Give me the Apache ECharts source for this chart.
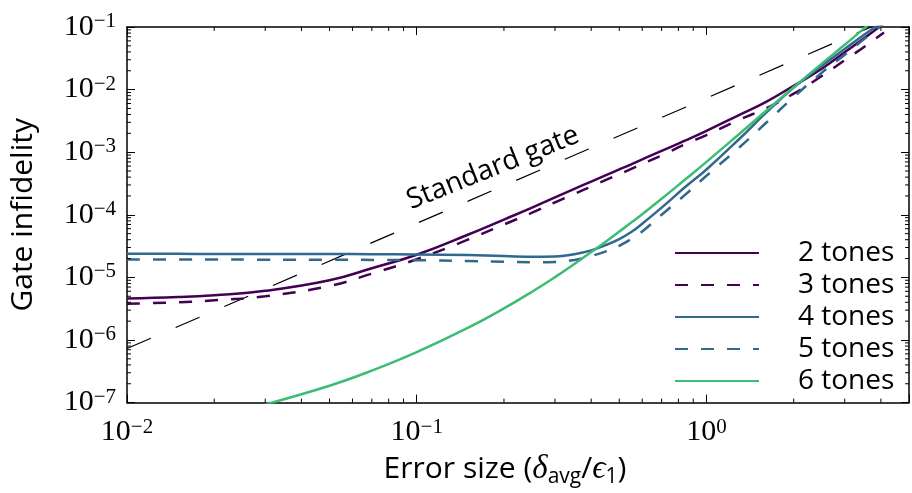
<!DOCTYPE html>
<html>
<head>
<meta charset="utf-8">
<script src="https://cdn.jsdelivr.net/npm/echarts@6/dist/echarts.min.js"></script>
<style>
html, body { margin: 0; padding: 0; background: #fff; }
#chart { width: 912px; height: 493px; }
</style>
</head>
<body>
<div id="chart"></div>
<script>
// error size (x) sampled on the curves
const errSize = [0.01, 0.015, 0.02, 0.03, 0.05, 0.07, 0.1, 0.15, 0.2, 0.25, 0.3, 0.35, 0.4, 0.45,
  0.5, 0.55, 0.6, 0.7, 0.85, 1, 1.3, 1.6, 2, 2.5, 3, 3.5, 4.1];
const tones2 = [4.6e-6, 4.85e-6, 5.2e-6, 6.1e-6, 9.0e-6, 1.4e-5, 2.3e-5, 4.8e-5, 8.4e-5, 1.3e-4, 1.9e-4, 2.6e-4, 3.4e-4, 4.3e-4,
  5.3e-4, 6.4e-4, 7.7e-4, 1.05e-3, 1.56e-3, 2.2e-3, 3.95e-3, 6.3e-3, 1.15e-2, 2.15e-2, 3.95e-2, 6.6e-2, 1.15e-1];
const tones3 = [3.8e-6, 4.0e-6, 4.3e-6, 5.0e-6, 7.3e-6, 1.15e-5, 1.95e-5, 4.0e-5, 7.0e-5, 1.08e-4, 1.58e-4, 2.16e-4, 2.83e-4, 3.6e-4,
  4.45e-4, 5.4e-4, 6.5e-4, 8.9e-4, 1.36e-3, 1.88e-3, 3.3e-3, 5.0e-3, 8.6e-3, 1.65e-2, 2.95e-2, 4.8e-2, 8.2e-2];
const tones4 = [2.38e-5, 2.38e-5, 2.37e-5, 2.37e-5, 2.36e-5, 2.35e-5, 2.33e-5, 2.27e-5, 2.2e-5, 2.13e-5, 2.15e-5, 2.35e-5, 2.7e-5, 3.3e-5,
  4.1e-5, 5.3e-5, 7.2e-5, 1.3e-4, 2.85e-4, 5.3e-4, 1.64e-3, 4.2e-3, 1.08e-2, 2.4e-2, 4.46e-2, 7.5e-2, 1.26e-1];
const tones5 = [1.93e-5, 1.93e-5, 1.93e-5, 1.92e-5, 1.92e-5, 1.9e-5, 1.88e-5, 1.83e-5, 1.78e-5, 1.75e-5, 1.77e-5, 1.9e-5, 2.2e-5, 2.6e-5,
  3.2e-5, 4.1e-5, 5.4e-5, 1.0e-4, 2.15e-4, 4.2e-4, 1.2e-3, 2.9e-3, 7.6e-3, 1.86e-2, 3.6e-2, 6.4e-2, 1.13e-1];
const errSize6 = [0.03, 0.05, 0.07, 0.1, 0.15, 0.2, 0.25, 0.3, 0.35, 0.4, 0.45, 0.5, 0.55, 0.6, 0.7, 0.85, 1, 1.3, 1.6, 2, 2.5, 3, 3.5, 4.1];
const tones6 = [9.35e-8, 1.86e-7, 3.24e-7, 6.4e-7, 1.56e-6, 3.2e-6, 5.9e-6, 1.01e-5, 1.64e-5, 2.54e-5, 3.76e-5, 5.4e-5, 7.5e-5, 1.02e-4,
  1.8e-4, 3.76e-4, 7.0e-4, 1.97e-3, 4.5e-3, 1.09e-2, 2.6e-2, 5.2e-2, 9.5e-2, 1.75e-1];
const standardX = [0.01, 4.1];
const standardY = [7.3e-7, 1.23e-1];

const toneNames = ["2 tones", "3 tones", "4 tones", "5 tones", "6 tones"];
const minorSteps = [2, 3, 4, 5, 6, 7, 8, 9];
const xDecades = [0.01, 0.1, 1];
const yDecades = [1e-7, 1e-6, 1e-5, 1e-4, 1e-3, 1e-2];
const xMin = 0.01, xMax = 5, yMin = 1e-7, yMax = 1e-1;

const sansFont = "Open Sans";
const serifFont = "Liberation Serif";

const pairs = (xs, ys) => xs.map((x, i) => [x, ys[i]]);

// minor ticks (log spaced), drawn through the axis scale on all four sides
const minorData = [];
xDecades.forEach((d) => minorSteps.forEach((m) => {
  if (d * m < xMax) minorData.push([d * m, yMin, 0]);
}));
yDecades.forEach((d) => minorSteps.forEach((m) => minorData.push([xMin, d * m, 1])));

const powLabel = (v) => {
  const e = Math.log10(v);
  const r = Math.round(e);
  if (Math.abs(e - r) > 1e-6) return "";
  return "{b|10}{s|" + (r < 0 ? "\u2212" + (-r) : r) + "}";
};
const powRich = {
  b: { fontFamily: serifFont, fontSize: 30, lineHeight: 32, color: "#000" },
  s: { fontFamily: serifFont, fontSize: 21, lineHeight: 21, verticalAlign: "top", color: "#000" },
};

const axisLine = { show: true, lineStyle: { color: "#000", width: 1.5 } };
const axisTick = { show: true, inside: true, length: 8, lineStyle: { color: "#000", width: 1 } };

const lineSeries = (name, data, color, dashed) => ({
  name: name,
  type: "line",
  data: data,
  symbol: "none",
  smooth: 0.45,
  clip: true,
  lineStyle: { color: color, width: 2.5, type: dashed ? [13, 13] : "solid" },
  itemStyle: { color: color },
  z: 3,
});

const myChart = echarts.init(document.getElementById("chart"));

const option = {
  backgroundColor: "#FFFFFF",
  animation: false,
  grid: { left: 127, right: 1, top: 27, bottom: 88 },
  legend: {
    data: toneNames,
    orient: "vertical",
    left: 674,
    top: 237,
    padding: 0,
    itemGap: 0,
    itemWidth: 84,
    itemHeight: 14,
    itemStyle: { opacity: 0 },
    textStyle: { fontFamily: sansFont, fontSize: 28, color: "#000", lineHeight: 32, padding: [0, 0, 0, 34] },
  },
  xAxis: [
    {
      type: "log",
      logBase: 10,
      min: xMin,
      max: xMax,
      position: "bottom",
      axisLine: axisLine,
      axisTick: axisTick,
      splitLine: { show: false },
      axisLabel: { formatter: powLabel, rich: powRich, margin: 14, showMinLabel: true, showMaxLabel: true },
      name: "{t|Error size (}{i|\u03b4}{sub|avg}{t|/}{i|\u03f5}{sub|1}{t|)}",
      nameLocation: "middle",
      nameGap: 40,
      nameTextStyle: {
        padding: [0, 26, 0, 0],
        rich: {
          t: { fontFamily: sansFont, fontSize: 30, color: "#000", lineHeight: 38 },
          i: { fontFamily: serifFont, fontStyle: "italic", fontSize: 33, color: "#000", lineHeight: 38 },
          sub: { fontFamily: sansFont, fontSize: 21, color: "#000", verticalAlign: "bottom", lineHeight: 38 },
        },
      },
    },
    {
      type: "log",
      logBase: 10,
      min: xMin,
      max: xMax,
      position: "top",
      axisLine: axisLine,
      axisTick: axisTick,
      splitLine: { show: false },
      axisLabel: { show: false },
    },
  ],
  yAxis: [
    {
      type: "log",
      logBase: 10,
      min: yMin,
      max: yMax,
      position: "left",
      axisLine: axisLine,
      axisTick: axisTick,
      splitLine: { show: false },
      axisLabel: { formatter: powLabel, rich: powRich, margin: 11, showMinLabel: true, showMaxLabel: true },
      name: "Gate infidelity",
      nameLocation: "middle",
      nameGap: 89,
      nameTextStyle: { fontFamily: sansFont, fontSize: 30, color: "#000" },
    },
    {
      type: "log",
      logBase: 10,
      min: yMin,
      max: yMax,
      position: "right",
      axisLine: axisLine,
      axisTick: axisTick,
      splitLine: { show: false },
      axisLabel: { show: false },
    },
  ],
  graphic: [
    {
      type: "text",
      x: 493,
      y: 168,
      rotation: 0.38,
      z: 10,
      style: {
        text: "Standard gate",
        fontFamily: sansFont,
        fontSize: 28,
        fill: "#000",
        align: "center",
        verticalAlign: "middle",
        textAlign: "center",
        textVerticalAlign: "middle",
      },
    },
  ],
  series: [
    {
      name: "Standard gate",
      type: "line",
      data: pairs(standardX, standardY),
      symbol: "none",
      clip: true,
      lineStyle: { color: "#000", width: 1.2, type: [26, 27] },
      z: 2,
    },
    lineSeries(toneNames[0], pairs(errSize, tones2), "#440154", false),
    lineSeries(toneNames[1], pairs(errSize, tones3), "#440154", true),
    lineSeries(toneNames[2], pairs(errSize, tones4), "#31688e", false),
    lineSeries(toneNames[3], pairs(errSize, tones5), "#31688e", true),
    lineSeries(toneNames[4], pairs(errSize6, tones6), "#3dbc74", false),
    {
      type: "custom",
      silent: true,
      data: minorData,
      encode: { x: 0, y: 1 },
      z: 5,
      renderItem: function (params, api) {
        const cs = params.coordSys;
        const style = { stroke: "#000", lineWidth: 1 };
        if (api.value(2) === 0) {
          const x = api.coord([api.value(0), yMin])[0];
          return {
            type: "group",
            children: [
              { type: "line", shape: { x1: x, y1: cs.y + cs.height, x2: x, y2: cs.y + cs.height - 4 }, style: style },
              { type: "line", shape: { x1: x, y1: cs.y, x2: x, y2: cs.y + 4 }, style: style },
            ],
          };
        }
        const y = api.coord([xMin, api.value(1)])[1];
        return {
          type: "group",
          children: [
            { type: "line", shape: { x1: cs.x, y1: y, x2: cs.x + 4, y2: y }, style: style },
            { type: "line", shape: { x1: cs.x + cs.width, y1: y, x2: cs.x + cs.width - 4, y2: y }, style: style },
          ],
        };
      },
    },
  ],
};

myChart.setOption(option);
</script>
</body>
</html>
